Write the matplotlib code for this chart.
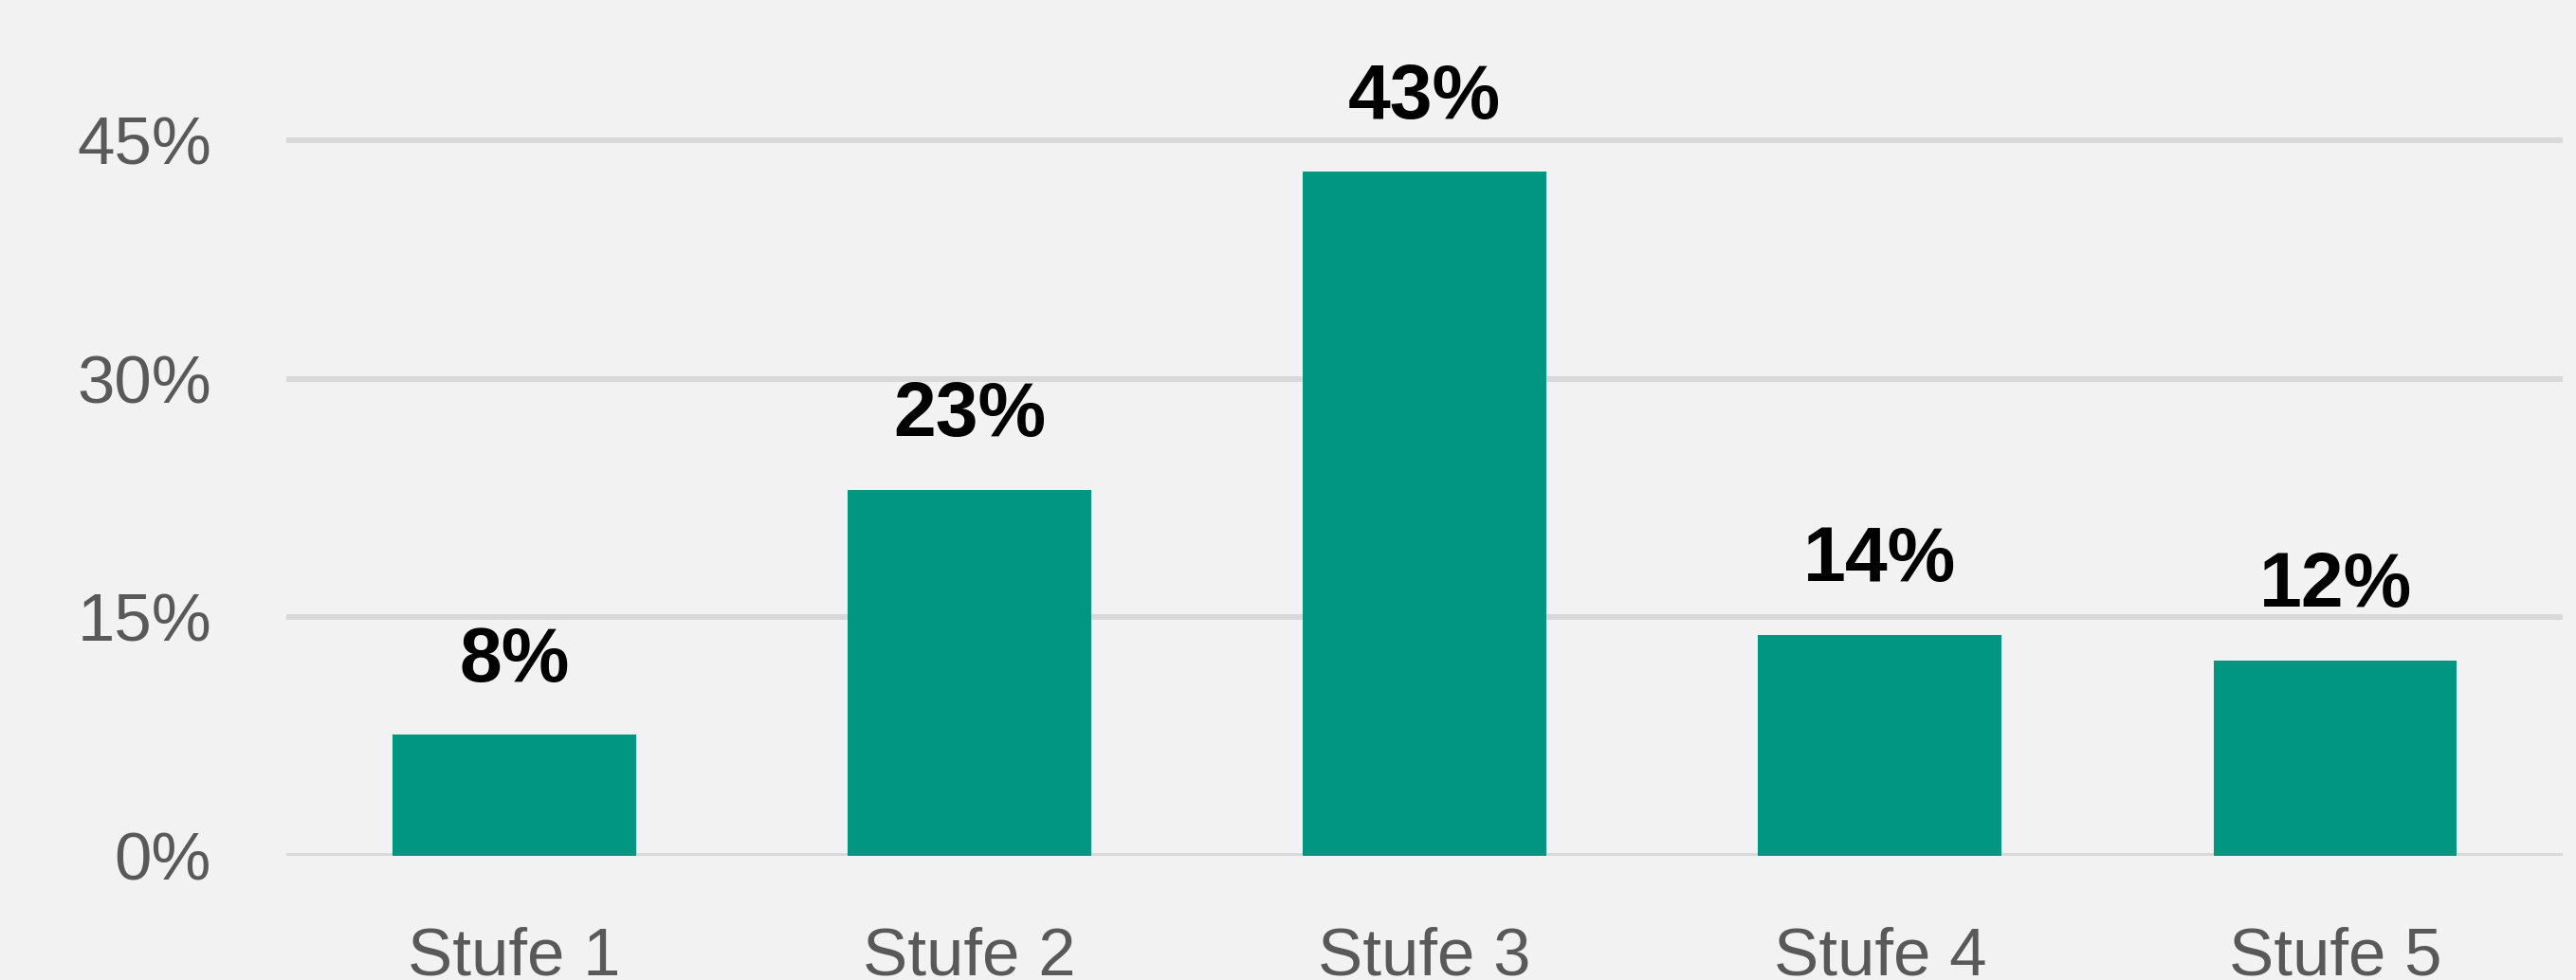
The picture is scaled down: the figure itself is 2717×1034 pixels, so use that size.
import matplotlib.pyplot as plt

plt.rcParams['font.family'] = ['Liberation Sans', 'DejaVu Sans']

stufen = ["Stufe 1", "Stufe 2", "Stufe 3", "Stufe 4", "Stufe 5"]
anteil = [7.6, 23.0, 43.0, 13.9, 12.3]
y_ticks = [0, 15, 30, 45]

bg = "#F2F2F2"
teal = "#009681"

fig = plt.figure(figsize=(27.17, 10.34), dpi=100, facecolor=bg)
ax = fig.add_axes([0.1112, 0.1267, 0.8837, 0.8114], facecolor=bg)

x = list(range(len(stufen)))
bars = ax.bar(x, anteil, width=0.535, color=teal, zorder=3)

# labels above the bars, rounded like in the original
for b, v in zip(bars, anteil):
    ax.annotate(f"{round(v)}%", (b.get_x() + b.get_width() / 2, v),
                xytext=(0, 41), textcoords="offset points",
                ha="center", va="baseline", fontsize=58, fontweight="bold",
                color="black", annotation_clip=False)

ax.set_xlim(-0.5, 4.5)
ax.set_ylim(0, 50)
ax.set_yticks(y_ticks)
ax.set_yticklabels([f"{t}%" for t in y_ticks])
ax.set_xticks(x)
ax.set_xticklabels(stufen)

ax.grid(axis="y", color="#D9D9D9", linewidth=4.3, zorder=0)
ax.set_axisbelow(True)
for s in ax.spines.values():
    s.set_visible(False)
ax.tick_params(axis="x", length=0, pad=54, labelsize=51, labelcolor="#595959")
ax.tick_params(axis="y", length=0, pad=57, labelsize=51, labelcolor="#595959")

fig.savefig("out.png", dpi=100, facecolor=bg)
